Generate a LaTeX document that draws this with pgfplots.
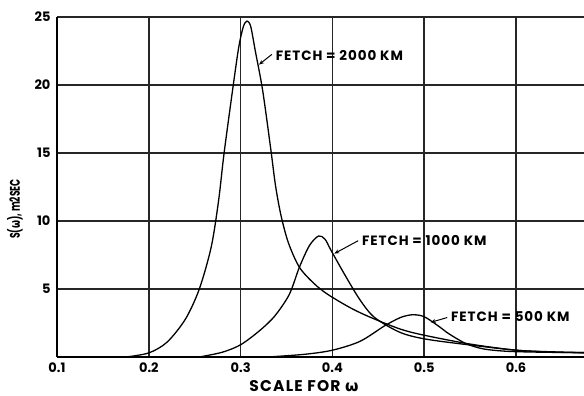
\documentclass[border=0pt]{standalone}
\usepackage{fontspec}
\setmainfont{Poppins}
\newfontfamily\grk{DejaVu Sans}
\usepackage{pgfplots}
\pgfplotsset{compat=1.18}
\usetikzlibrary{arrows.meta}

\begin{document}
\begin{tikzpicture}
\path[use as bounding box] (0,0) rectangle (584pt,396pt);
\begin{axis}[
  at={(57pt,39pt)}, anchor=south west,
  scale only axis, width=527pt, height=340pt,
  xmin=0.1, xmax=0.674, ymin=0, ymax=25,
  axis x line=bottom, axis y line=left,
  axis line style={line width=1.6pt, -},
  xtick={0.1,0.2,0.3,0.4,0.5,0.6},
  xticklabels={0.1,0.2,0.3,0.4,0.5,0.6},
  ytick={5,10,15,20,25},
  yticklabels={5,10,15,20,25},
  grid=major,
  major grid style={line width=1.6pt, black!85},
  major tick length=0pt,
  ticklabel style={font=\bfseries\fontsize{13}{14}\selectfont},
  xticklabel style={yshift=-2pt},
  yticklabel style={xshift=-3pt},
  clip=false,
]
% FETCH = 2000 KM
\addplot[black, line width=1.3pt, smooth, tension=0.5] coordinates {
 (0.175,0) (0.2,0.3) (0.22,1.1) (0.24,2.8) (0.255,5.0) (0.268,8.1)
 (0.276,11.5) (0.282,15) (0.292,20) (0.298,22.8) (0.303,24.3) (0.307,24.7)
 (0.311,24.3) (0.316,22.5) (0.324,19.6) (0.333,15.2) (0.338,12.6) (0.344,10.4)
 (0.352,8.4) (0.364,6.6) (0.380,5.4) (0.395,4.6) (0.420,3.6) (0.442,2.9)
 (0.474,2.05) (0.50,1.6) (0.55,0.95) (0.60,0.5) (0.64,0.38) (0.674,0.32)};
% FETCH = 1000 KM
\addplot[black, line width=1.3pt, smooth, tension=0.5] coordinates {
 (0.255,0) (0.28,0.35) (0.30,0.9) (0.32,1.9) (0.337,3.0) (0.353,4.6)
 (0.364,6.6) (0.375,8.2) (0.385,8.9) (0.392,8.65) (0.398,7.9) (0.413,6.1)
 (0.43,4.2) (0.446,2.9) (0.474,1.8) (0.503,1.3) (0.554,0.85) (0.60,0.5)
 (0.64,0.36) (0.674,0.31)};
% FETCH = 500 KM
\addplot[black, line width=1.3pt, smooth, tension=0.5] coordinates {
 (0.33,0) (0.37,0.2) (0.40,0.5) (0.43,1.15) (0.457,2.3) (0.474,2.9)
 (0.486,3.1) (0.496,3.05) (0.503,2.85) (0.517,2.2) (0.527,1.7) (0.545,1.0)
 (0.564,0.6) (0.59,0.42) (0.63,0.35) (0.674,0.32)};

\tikzset{lbl/.style={font=\bfseries\fontsize{13.5}{14}\selectfont\addfontfeature{LetterSpace=7}, anchor=west, inner sep=1pt},
         arr/.style={-{Stealth[length=5pt,width=4pt]}, line width=1pt}}
\node[lbl] at (axis cs:0.337,22.2) {FETCH = 2000 KM};
\draw[arr] (axis cs:0.334,22.25) -- (axis cs:0.320,21.5);
\node[lbl] at (axis cs:0.431,8.6) {FETCH = 1000 KM};
\draw[arr] (axis cs:0.428,8.55) -- (axis cs:0.402,7.6);
\node[lbl] at (axis cs:0.528,2.95) {FETCH = 500 KM};
\draw[arr] (axis cs:0.525,2.9) -- (axis cs:0.507,2.55);

\node[font=\bfseries\fontsize{15.5}{16}\selectfont\addfontfeature{LetterSpace=8}] at (axis cs:0.369,0) [yshift=-29pt] {SCALE FOR {\grk\bfseries ω}};
\end{axis}
% vertical axis title
\node[rotate=90, font=\bfseries\fontsize{14}{15}\selectfont, inner sep=0pt] at (15pt,187pt) {\scalebox{0.66}[1]{S({\grk\bfseries ω}), m2SEC}};
\end{tikzpicture}
\end{document}
